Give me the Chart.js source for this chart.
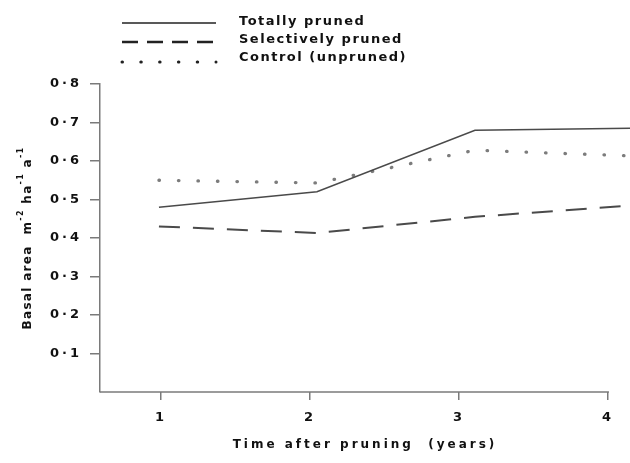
<!DOCTYPE html>
<html>
<head>
<meta charset="utf-8">
<script src="https://cdn.jsdelivr.net/npm/chart.js@4.4.1/dist/chart.umd.min.js"></script>
<style>
  html, body { margin: 0; padding: 0; background: #fff; }
  canvas { display: block; }
</style>
</head>
<body>
<canvas id="chart" width="630" height="463"></canvas>
<script>
// years after pruning
const years = [1, 2, 3, 4];
const xTicks = [1, 2, 3, 4];
const yTicks = [0.1, 0.2, 0.3, 0.4, 0.5, 0.6, 0.7, 0.8];
const yTickLabels = ['0·1', '0·2', '0·3', '0·4', '0·5', '0·6', '0·7', '0·8'];

// basal area increment, m-2 ha-1 a-1
const totallyPruned = [0.48, 0.52, 0.68, 0.685];
const selectivelyPruned = [0.43, 0.413, 0.455, 0.485];
const controlUnpruned = [0.55, 0.543, 0.628, 0.613];

const seriesNames = ['Totally pruned', 'Selectively pruned', 'Control (unpruned)'];

// y title in pieces: [text, isSuperscript]
const yTitleParts = [['Basal area  m', false], ['-2', true], [' ha', false], ['-1', true], [' a', false], ['-1', true]];

const FONT = 'DejaVu Sans';
const AXIS = '#7a7a7a';

function toPoints(values) {
    return years.map((x, i) => ({ x: x, y: values[i] }));
}

// letter spacing for the wide, spaced-out lettering of the original
const spacing = {
    id: 'spacing',
    beforeUpdate(chart) { chart.ctx.letterSpacing = '3px'; },
    beforeDraw(chart) { chart.ctx.letterSpacing = '3px'; }
};

const extras = {
    id: 'extras',
    afterDraw(chart) {
        const ctx = chart.ctx;
        const area = chart.chartArea;
        const x = chart.scales.x;

        // x axis line only runs to the last tick
        ctx.save();
        ctx.strokeStyle = AXIS;
        ctx.lineWidth = 1.5;
        ctx.beginPath();
        ctx.moveTo(area.left, area.bottom);
        ctx.lineTo(x.getPixelForValue(xTicks[xTicks.length - 1]) + 1, area.bottom);
        ctx.stroke();
        ctx.restore();

        // stacked legend at the top
        const legendDash = [[], [16, 9], [0.5, 18.3]];
        const lineY = [23, 42, 62];
        const textY = [22, 40, 58];
        chart.data.datasets.forEach((ds, i) => {
            ctx.save();
            ctx.strokeStyle = '#222';
            ctx.lineWidth = i === 2 ? 3 : (i === 1 ? 2.5 : 1.6);
            ctx.lineCap = i === 2 ? 'round' : 'butt';
            ctx.setLineDash(legendDash[i]);
            ctx.beginPath();
            ctx.moveTo(122, lineY[i]);
            ctx.lineTo(216, lineY[i]);
            ctx.stroke();
            ctx.setLineDash([]);
            ctx.letterSpacing = '1.5px';
            ctx.fillStyle = '#111';
            ctx.font = 'bold 13px "' + FONT + '"';
            ctx.textAlign = 'left';
            ctx.textBaseline = 'middle';
            ctx.fillText(ds.label, 239, textY[i]);
            ctx.restore();
        });

        // rotated y title with raised exponents
        ctx.save();
        ctx.letterSpacing = '1.3px';
        ctx.fillStyle = '#111';
        ctx.textAlign = 'left';
        ctx.textBaseline = 'middle';
        const mainFont = 'bold 12px "' + FONT + '"';
        const supFont = 'bold 8px "' + FONT + '"';
        let total = 0;
        yTitleParts.forEach(p => {
            ctx.font = p[1] ? supFont : mainFont;
            total += ctx.measureText(p[0]).width;
        });
        ctx.translate(28, (area.top + area.bottom) / 2);
        ctx.rotate(-Math.PI / 2);
        let pos = -total / 2;
        yTitleParts.forEach(p => {
            ctx.font = p[1] ? supFont : mainFont;
            ctx.fillText(p[0], pos, p[1] ? -7 : 0);
            pos += ctx.measureText(p[0]).width;
        });
        ctx.restore();
    }
};

const ctx = document.getElementById('chart').getContext('2d');
new Chart(ctx, {
    type: 'line',
    data: {
        datasets: [{
            label: seriesNames[0],
            data: toPoints(totallyPruned),
            xAxisID: 'xData',
            borderColor: '#4a4a4a',
            borderWidth: 1.6,
            pointRadius: 0
        }, {
            label: seriesNames[1],
            data: toPoints(selectivelyPruned),
            xAxisID: 'xData',
            borderColor: '#4a4a4a',
            borderWidth: 2,
            borderDash: [21, 13],
            pointRadius: 0
        }, {
            label: seriesNames[2],
            data: toPoints(controlUnpruned),
            xAxisID: 'xData',
            borderColor: '#7c7c7c',
            borderWidth: 3.3,
            borderDash: [0.5, 19],
            borderCapStyle: 'round',
            pointRadius: 0
        }]
    },
    options: {
        responsive: false,
        animation: false,
        devicePixelRatio: 1,
        layout: { padding: { top: 84, right: 0, left: 0, bottom: 0 } },
        plugins: {
            legend: { display: false },
            tooltip: { enabled: false }
        },
        scales: {
            // where the curves sit (the drawn ticks are a little off the data in the original)
            xData: {
                type: 'linear',
                display: false,
                min: 0.627,
                max: 3.981
            },
            x: {
                type: 'linear',
                position: 'bottom',
                min: 0.591,
                max: 4.148,
                afterBuildTicks(scale) { scale.ticks = xTicks.map(v => ({ value: v })); },
                afterFit(scale) { scale.height = 71; },
                border: { display: false },
                grid: {
                    drawOnChartArea: false,
                    drawTicks: true,
                    tickLength: 8,
                    color: AXIS,
                    lineWidth: 1.5
                },
                ticks: {
                    padding: 10,
                    color: '#111',
                    maxRotation: 0,
                    font: { family: FONT, size: 13, weight: 'bold' }
                },
                title: {
                    display: true,
                    text: 'Time after pruning  (years)',
                    color: '#111',
                    padding: { top: 11, bottom: 11 },
                    font: { family: FONT, size: 12, weight: 'bold' }
                }
            },
            y: {
                min: 0,
                max: 0.8,
                afterBuildTicks(scale) { scale.ticks = yTicks.map(v => ({ value: v })); },
                afterFit(scale) { scale.width = 100; },
                border: { display: true, color: AXIS, width: 1.5 },
                grid: {
                    drawOnChartArea: false,
                    drawTicks: true,
                    tickLength: 10,
                    color: AXIS,
                    lineWidth: 1.5
                },
                ticks: {
                    padding: 8,
                    color: '#111',
                    font: { family: FONT, size: 13, weight: 'bold' },
                    callback: (value, index) => yTickLabels[index]
                },
                title: { display: false }
            }
        }
    },
    plugins: [spacing, extras]
});
</script>
</body>
</html>
